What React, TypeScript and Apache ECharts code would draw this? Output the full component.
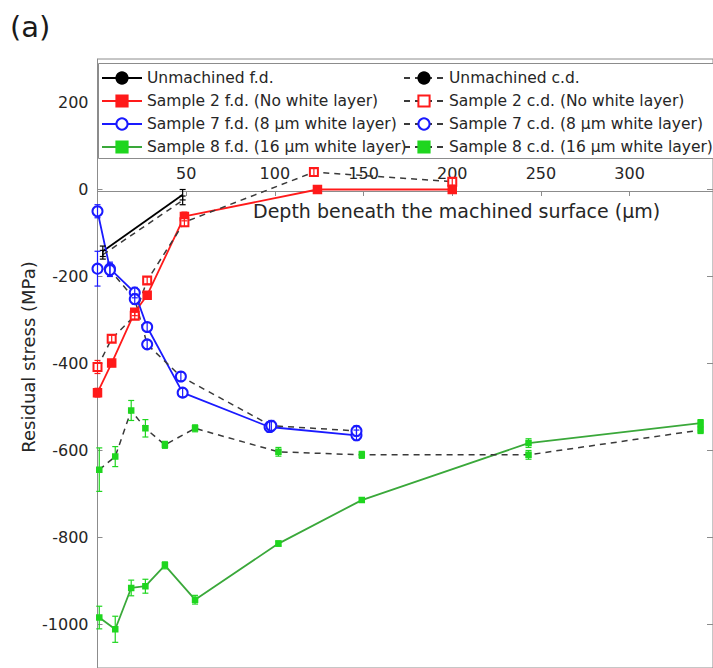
import React, { useEffect, useRef } from 'react';
import * as echarts from 'echarts';

// ---- tick labels ----
const xTicks = [50, 100, 150, 200, 250, 300];
const yTicks = [-1000, -800, -600, -400, -200, 0, 200];

// ---- data (depth in µm, residual stress in MPa, error half-width in MPa) ----
const unmachinedFdDepth = [3, 48];
const unmachinedFdStress = [-142, -12];
const unmachinedFdErr = [12, 12];

const unmachinedCdDepth = [3, 48];
const unmachinedCdStress = [-150, -25];
const unmachinedCdErr = [10, 10];

const s2FdDepth = [0, 8, 21, 28, 49, 124, 200];
const s2FdStress = [-467, -399, -282, -243, -62, 0, 0];
const s2FdErr = [10, 8, 8, 8, 10, 6, 8];

const s2CdDepth = [0, 8, 21, 28, 49, 122, 200];
const s2CdStress = [-408, -343, -290, -209, -75, 40, 18];
const s2CdErr = [15, 8, 8, 8, 10, 8, 8];

const s7FdDepth = [0, 7, 21, 28, 48, 97, 146];
const s7FdStress = [-50, -182, -237, -316, -467, -546, -565];
const s7FdErr = [15, 15, 12, 10, 10, 12, 12];

const s7CdDepth = [0, 7, 21, 28, 47, 98, 146];
const s7CdStress = [-182, -185, -252, -356, -430, -543, -555];
const s7CdErr = [40, 15, 12, 10, 10, 12, 12];

const s8FdDepth = [1, 10, 19, 27, 38, 55, 102, 149, 243, 340];
const s8FdStress = [-984, -1011, -916, -912, -864, -943, -814, -714, -583, -537];
const s8FdErr = [26, 30, 18, 16, 8, 10, 6, 5, 10, 8];

const s8CdDepth = [1, 10, 19, 27, 38, 55, 102, 149, 243, 340];
const s8CdStress = [-644, -614, -508, -549, -587, -549, -603, -610, -610, -553];
const s8CdErr = [50, 23, 23, 20, 8, 8, 10, 8, 10, 8];

const FONT = '"DejaVu Sans", "Liberation Sans", Arial, sans-serif';
const TEXT = '#262626';
const AXIS = '#8c8c8c';
const CD_LINE = '#3a3a3a';

type Spec = {
  name: string;
  depth: number[];
  stress: number[];
  err: number[];
  lineColor: string;
  markColor: string;
  dashed: boolean;
  symbol: string;
  symbolSize: number;
};

const specs: Spec[] = [
  { name: 'Unmachined f.d.', depth: unmachinedFdDepth, stress: unmachinedFdStress, err: unmachinedFdErr, lineColor: '#000000', markColor: '#000000', dashed: false, symbol: 'none', symbolSize: 0 },
  { name: 'Sample 2 f.d. (No white layer)', depth: s2FdDepth, stress: s2FdStress, err: s2FdErr, lineColor: '#ff1a1a', markColor: '#ff1a1a', dashed: false, symbol: 'rect', symbolSize: 8 },
  { name: 'Sample 7 f.d. (8 μm white layer)', depth: s7FdDepth, stress: s7FdStress, err: s7FdErr, lineColor: '#1a1aff', markColor: '#1a1aff', dashed: false, symbol: 'emptyCircle', symbolSize: 10 },
  { name: 'Sample 8 f.d. (16 μm white layer)', depth: s8FdDepth, stress: s8FdStress, err: s8FdErr, lineColor: '#3aa83a', markColor: '#1fd61f', dashed: false, symbol: 'rect', symbolSize: 5 },
  { name: 'Unmachined c.d.', depth: unmachinedCdDepth, stress: unmachinedCdStress, err: unmachinedCdErr, lineColor: CD_LINE, markColor: '#000000', dashed: true, symbol: 'none', symbolSize: 0 },
  { name: 'Sample 2 c.d. (No white layer)', depth: s2CdDepth, stress: s2CdStress, err: s2CdErr, lineColor: CD_LINE, markColor: '#ff1a1a', dashed: true, symbol: 'emptyRect', symbolSize: 8 },
  { name: 'Sample 7 c.d. (8 μm white layer)', depth: s7CdDepth, stress: s7CdStress, err: s7CdErr, lineColor: CD_LINE, markColor: '#1a1aff', dashed: true, symbol: 'emptyCircle', symbolSize: 10 },
  { name: 'Sample 8 c.d. (16 μm white layer)', depth: s8CdDepth, stress: s8CdStress, err: s8CdErr, lineColor: CD_LINE, markColor: '#1fd61f', dashed: true, symbol: 'rect', symbolSize: 5 },
];

function buildSeries(): any[] {
  const lines = specs.map((s) => ({
    type: 'line',
    name: s.name,
    data: s.depth.map((d, i) => [d, s.stress[i]]),
    symbol: s.symbol,
    symbolSize: s.symbolSize,
    showSymbol: s.symbol !== 'none',
    lineStyle: { color: s.lineColor, width: s.dashed ? 1.5 : 1.8, type: s.dashed ? [6, 5] : 'solid' },
    itemStyle: { color: s.markColor, borderColor: s.markColor, borderWidth: 1.5 },
    z: 3,
  }));
  const bars = specs.map((s) => ({
    type: 'custom',
    name: s.name + ' err',
    data: s.depth.map((d, i) => [d, s.stress[i] - s.err[i], s.stress[i] + s.err[i]]),
    encode: { x: 0, y: [1, 2] },
    z: 4,
    renderItem: (params: any, api: any) => {
      const x = api.value(0);
      const a = api.coord([x, api.value(1)]);
      const b = api.coord([x, api.value(2)]);
      const w = 3;
      const st = { stroke: s.markColor, lineWidth: 1.2 };
      return {
        type: 'group',
        children: [
          { type: 'line', shape: { x1: a[0], y1: a[1], x2: b[0], y2: b[1] }, style: st },
          { type: 'line', shape: { x1: a[0] - w, y1: a[1], x2: a[0] + w, y2: a[1] }, style: st },
          { type: 'line', shape: { x1: b[0] - w, y1: b[1], x2: b[0] + w, y2: b[1] }, style: st },
        ],
      };
    },
  }));
  return [...lines, ...bars];
}

export default function App() {
  const ref = useRef<HTMLDivElement>(null);
  useEffect(() => {
    if (!ref.current) return;
    const chart = echarts.init(ref.current, null, { renderer: 'svg' });
    const legendText = { fontFamily: FONT, fontSize: 15.5, color: TEXT, lineHeight: 14 };
    chart.setOption({
      animation: false,
      backgroundColor: '#ffffff',
      grid: {
        left: 97.5, top: 59, width: 616.5, height: 616,
        show: true, borderColor: AXIS, borderWidth: 1, backgroundColor: 'transparent',
      },
      xAxis: {
        type: 'value', min: 0, max: 347, interval: 50, position: 'top', offset: -132,
        axisLine: { onZero: false, lineStyle: { color: AXIS, width: 1 } },
        axisTick: { inside: true, length: 5, customValues: xTicks, lineStyle: { color: AXIS } },
        axisLabel: {
          customValues: xTicks, margin: 10,
          fontFamily: FONT, fontSize: 16, color: TEXT,
          formatter: (v: number) => (xTicks.includes(v) ? String(v) : ''),
        },
        splitLine: { show: false },
      },
      yAxis: [
        {
          type: 'value', min: -1100, max: 300, interval: 100, position: 'left',
          axisLine: { show: true, onZero: false, lineStyle: { color: AXIS, width: 1 } },
          axisTick: { show: true, inside: true, length: 5, customValues: yTicks, lineStyle: { color: AXIS } },
          axisLabel: {
            customValues: yTicks, margin: 9, fontFamily: FONT, fontSize: 16, color: TEXT,
            formatter: (v: number) => (yTicks.includes(v) ? String(v) : ''),
          },
          splitLine: { show: false },
        },
        {
          type: 'value', min: -1100, max: 300, interval: 100, position: 'right',
          axisLine: { show: true, onZero: false, lineStyle: { color: AXIS, width: 1 } },
          axisTick: { show: true, inside: true, length: 6, customValues: yTicks, lineStyle: { color: AXIS } },
          axisLabel: { show: false },
          splitLine: { show: false },
        },
      ],
      legend: [
        {
          data: specs.slice(0, 4).map((s) => s.name),
          orient: 'vertical', left: 101, top: 70, padding: 0,
          itemWidth: 40, itemHeight: 14, itemGap: 7, textStyle: legendText, z: 6,
        },
        {
          data: specs.slice(4).map((s) => s.name),
          orient: 'vertical', left: 403, top: 70, padding: 0,
          itemWidth: 40, itemHeight: 14, itemGap: 7, textStyle: legendText, z: 6,
        },
      ],
      graphic: [
        {
          type: 'rect', left: 98, top: 63, z: 5,
          shape: { width: 640, height: 95 },
          style: { fill: '#ffffff', stroke: AXIS, lineWidth: 1 },
        },
        {
          type: 'text', left: 10, top: 12,
          style: { text: '(a)', fontFamily: FONT, fontSize: 29, fill: '#1a1a1a' },
        },
        {
          type: 'text', left: 253, top: 201,
          style: { text: 'Depth beneath the machined surface (μm)', fontFamily: FONT, fontSize: 19, fill: TEXT },
        },
        {
          type: 'text', x: 28, y: 357, rotation: Math.PI / 2,
          style: { text: 'Residual stress (MPa)', fontFamily: FONT, fontSize: 18, fill: TEXT, align: 'center', verticalAlign: 'middle' },
        },
      ],
      series: buildSeries(),
    });
    return () => chart.dispose();
  }, []);
  return <div ref={ref} style={{ position: 'absolute', left: 0, top: 0, width: 713, height: 668 }} />;
}
